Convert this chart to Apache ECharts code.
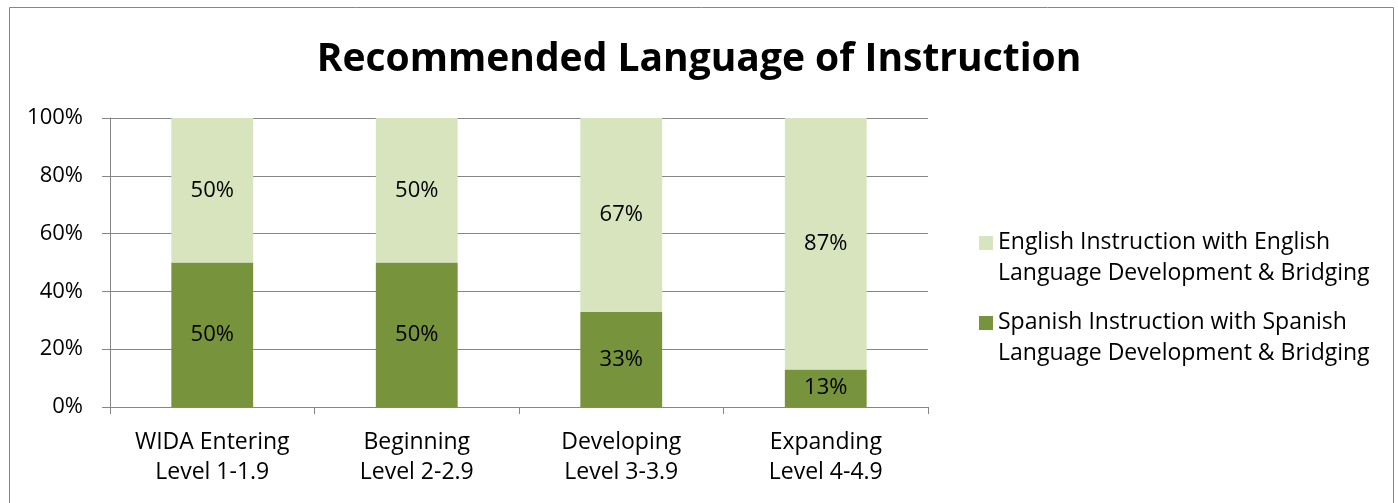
<!DOCTYPE html>
<html>
<head>
<meta charset="utf-8">
<script src="https://cdn.jsdelivr.net/npm/echarts@6/dist/echarts.min.js"></script>
<style>
html,body{margin:0;padding:0;background:#fff;}
#chart{width:1398px;height:503px;}
</style>
</head>
<body>
<div id="chart"></div>
<script>
const titleText = 'Recommended Language of Instruction';
const categories = ['WIDA Entering\nLevel 1-1.9', 'Beginning\nLevel 2-2.9', 'Developing\nLevel 3-3.9', 'Expanding\nLevel 4-4.9'];
const spanishName = 'Spanish Instruction with Spanish Language Development & Bridging';
const englishName = 'English Instruction with English Language Development & Bridging';
const spanishValues = [50, 50, 33, 13];
const englishValues = [50, 50, 67, 87];
const yTicks = [0, 20, 40, 60, 80, 100];

const FONT = 'Open Sans';
const chart = echarts.init(document.getElementById('chart'), null, {renderer: 'canvas'});
const legendBreak = {};
legendBreak[englishName] = 'English Instruction with English\nLanguage Development & Bridging';
legendBreak[spanishName] = 'Spanish Instruction with Spanish\nLanguage Development & Bridging';
const iconPath = 'path://M0,0H14V14H0Z M7,44L7.01,44Z';

chart.setOption({
  animation: false,
  backgroundColor: '#fff',
  textStyle: {fontFamily: FONT},
  graphic: [{
    type: 'rect', left: 7, top: 5,
    shape: {width: 1384, height: 520},
    style: {fill: 'none', stroke: '#868686', lineWidth: 1}
  }],
  title: {
    text: titleText,
    left: 'center', top: 35,
    textStyle: {fontFamily: FONT, fontSize: 39, fontWeight: 'bold', color: '#000'}
  },
  legend: {
    orient: 'vertical',
    left: 974, top: 222,
    itemWidth: 14, itemHeight: 44,
    itemGap: 18,
    icon: iconPath,
    data: [englishName, spanishName],
    formatter: n => legendBreak[n],
    textStyle: {fontFamily: FONT, fontSize: 23, lineHeight: 31, color: '#000'}
  },
  grid: {left: 110, right: 470, top: 118, bottom: 96},
  xAxis: {
    type: 'category',
    data: categories,
    axisLine: {show: true, lineStyle: {color: '#868686', width: 1}},
    axisTick: {show: true, length: 7, lineStyle: {color: '#868686'}},
    axisLabel: {fontFamily: FONT, fontSize: 23, lineHeight: 30, color: '#000', margin: 20}
  },
  yAxis: {
    type: 'value',
    min: yTicks[0], max: yTicks[yTicks.length - 1], interval: 20,
    axisLine: {show: true, lineStyle: {color: '#868686', width: 1}},
    axisTick: {show: true, length: 8, lineStyle: {color: '#868686'}},
    axisLabel: {formatter: '{value}%', fontFamily: FONT, fontSize: 22, color: '#000', margin: 27},
    splitLine: {show: true, lineStyle: {color: '#868686', width: 1}}
  },
  series: [
    {
      name: spanishName, type: 'bar', stack: 'total',
      data: spanishValues, barWidth: '40%',
      itemStyle: {color: '#77933C'},
      label: {show: true, position: 'inside', formatter: '{c}%', fontFamily: FONT, fontSize: 22, color: '#000'}
    },
    {
      name: englishName, type: 'bar', stack: 'total',
      data: englishValues, barWidth: '40%',
      itemStyle: {color: '#D7E4BD'},
      label: {show: true, position: 'inside', formatter: '{c}%', fontFamily: FONT, fontSize: 22, color: '#000'}
    }
  ]
});
</script>
</body>
</html>
